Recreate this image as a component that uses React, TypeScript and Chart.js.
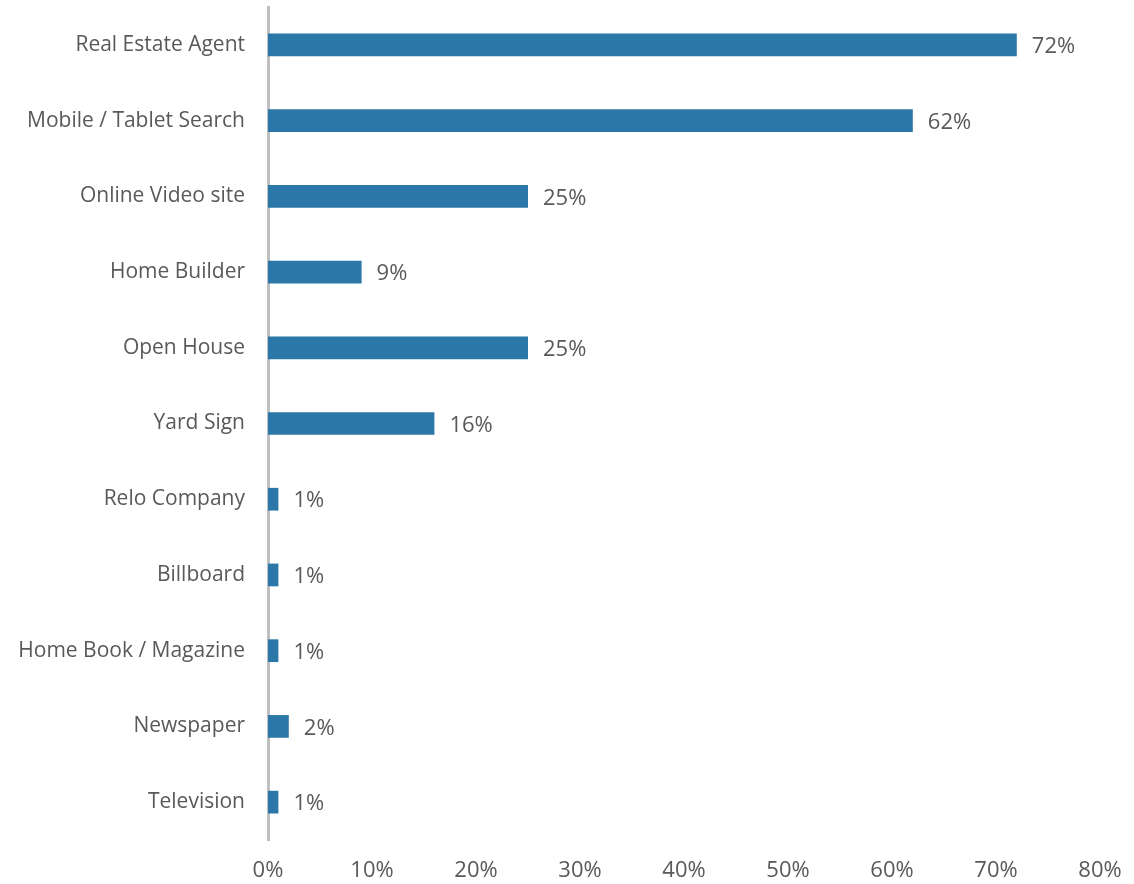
import React, { useEffect, useRef } from "react";
import { Chart, registerables } from "chart.js";

Chart.register(...registerables);

const categories = [
  "Real Estate Agent",
  "Mobile / Tablet Search",
  "Online Video site",
  "Home Builder",
  "Open House",
  "Yard Sign",
  "Relo Company",
  "Billboard",
  "Home Book / Magazine",
  "Newspaper",
  "Television",
];
const values = [72, 62, 25, 9, 25, 16, 1, 1, 1, 2, 1];
const xTicks = [0, 10, 20, 30, 40, 50, 60, 70, 80];

const FONT = "'Open Sans', 'Noto Sans', sans-serif";
const TEXT = "#595959";

const labelPlugin = {
  id: "barLabels",
  afterDatasetsDraw(chart: any) {
    const ctx = chart.ctx;
    const meta = chart.getDatasetMeta(0);
    ctx.save();
    ctx.font = `22px ${FONT}`;
    ctx.fillStyle = TEXT;
    ctx.textAlign = "left";
    ctx.textBaseline = "middle";
    meta.data.forEach((bar: any, i: number) => {
      ctx.fillText(`${values[i]}%`, bar.x + 15, bar.y + 2);
    });
    ctx.restore();
  },
};

export default function App() {
  const ref = useRef<HTMLCanvasElement>(null);
  useEffect(() => {
    if (!ref.current) return;
    const chart = new Chart(ref.current, {
      type: "bar",
      data: {
        labels: categories,
        datasets: [
          {
            data: values,
            backgroundColor: "#2a77a8",
            barPercentage: 0.6,
            categoryPercentage: 0.5,
          },
        ],
      },
      options: {
        indexAxis: "y",
        animation: false,
        responsive: true,
        maintainAspectRatio: false,
        layout: { padding: { top: 7, right: 34, left: 0, bottom: 0 } },
        plugins: { legend: { display: false }, tooltip: { enabled: false } },
        scales: {
          x: {
            min: 0,
            max: 80,
            afterBuildTicks: (scale: any) => {
              scale.ticks = xTicks.map((v) => ({ value: v }));
            },
            grid: { display: false },
            border: { display: false },
            ticks: {
              padding: 10,
              color: TEXT,
              font: { family: FONT, size: 22 },
              callback: (v: any) => `${v}%`,
            },
            afterFit: (scale: any) => {
              scale.height = 44;
              scale.paddingLeft = 0;
              scale.paddingRight = 0;
            },
          },
          y: {
            grid: { display: false },
            border: { display: true, color: "#bfbfbf", width: 3 },
            ticks: {
              padding: 15,
              color: TEXT,
              font: { family: FONT, size: 21 },
            },
            afterFit: (scale: any) => {
              scale.width = 268;
              scale.paddingTop = 0;
              scale.paddingBottom = 0;
            },
          },
        },
      },
      plugins: [labelPlugin],
    });
    return () => chart.destroy();
  }, []);
  return (
    <div style={{ position: "absolute", left: 0, top: 0, width: 1134, height: 884 }}>
      <canvas ref={ref} />
    </div>
  );
}
